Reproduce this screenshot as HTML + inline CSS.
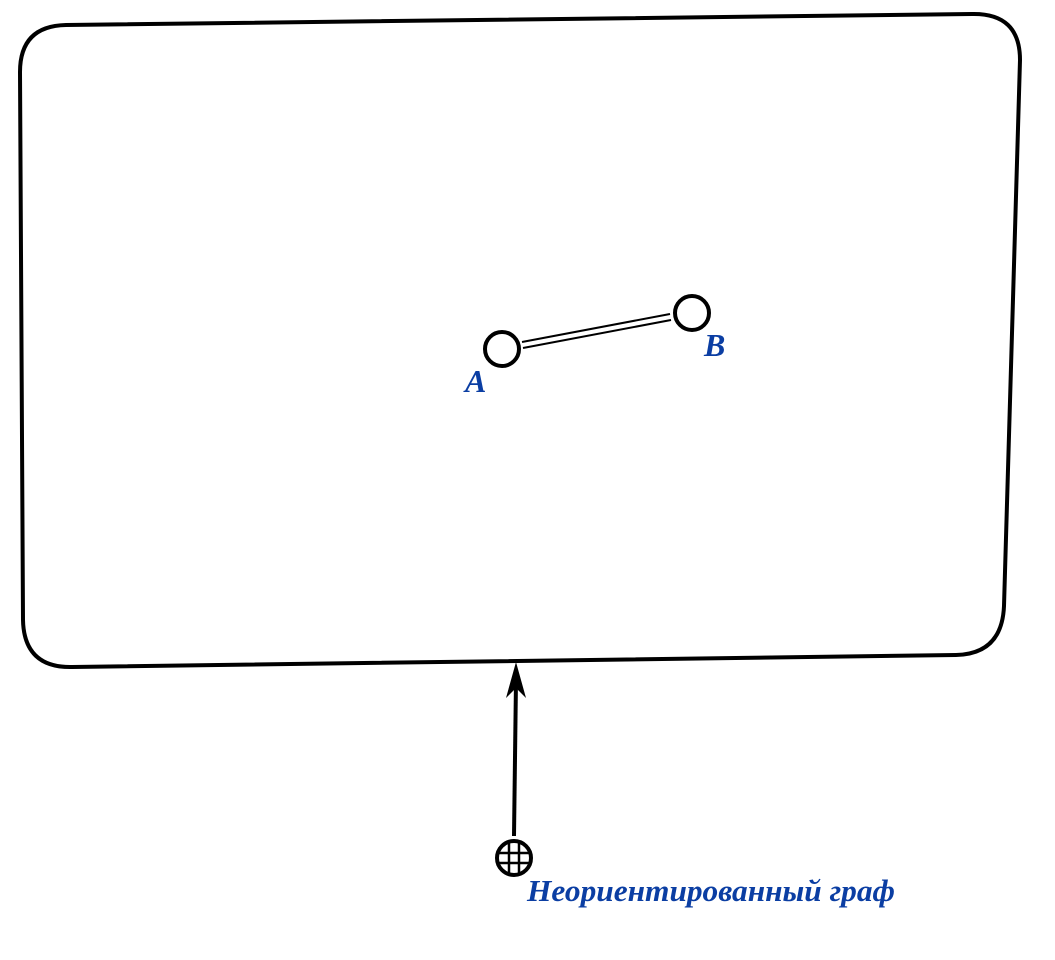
<!DOCTYPE html>
<html><head><meta charset="utf-8"><style>
html,body{margin:0;padding:0;background:#fff;width:1055px;height:960px;overflow:hidden}
.lbl{font-family:"Liberation Serif",serif;font-weight:700;font-style:italic;fill:#0b3ea3}
</style></head><body>
<svg width="1055" height="960" viewBox="0 0 1055 960">
<path d="M66,25 L972,14 Q1020,13 1020,60 L1004,606 Q1002,654 956,655 L72,667 Q24,668 23,620 L20,72 Q20,26 66,25 Z" fill="none" stroke="#000" stroke-width="4"/>
<g stroke="#000" stroke-width="2">
<line x1="522" y1="342" x2="670" y2="314"/>
<line x1="523" y1="348" x2="671" y2="320"/>
</g>
<circle cx="502" cy="349" r="17" fill="#fff" stroke="#000" stroke-width="4"/>
<circle cx="692" cy="313" r="17" fill="#fff" stroke="#000" stroke-width="4"/>
<text class="lbl" x="465" y="392" font-size="32" font-weight="bold">A</text>
<text class="lbl" x="704" y="356" font-size="32" font-weight="bold">B</text>
<line x1="514" y1="836" x2="516" y2="680" stroke="#000" stroke-width="4"/>
<path d="M516,662 L526,698 L516,688 L506,698 Z" fill="#000"/>
<g>
<circle cx="514" cy="858" r="17" fill="#fff" stroke="#000" stroke-width="4"/>
<g stroke="#000" stroke-width="2.5">
<line x1="509" y1="843" x2="509" y2="873"/><line x1="519" y1="843" x2="519" y2="873"/>
<line x1="499" y1="853" x2="529" y2="853"/><line x1="499" y1="863" x2="529" y2="863"/>
</g></g>
<text class="lbl" x="527" y="901" font-size="31" font-weight="bold" textLength="368" lengthAdjust="spacingAndGlyphs">Неориентированный граф</text>
</svg>
</body></html>
